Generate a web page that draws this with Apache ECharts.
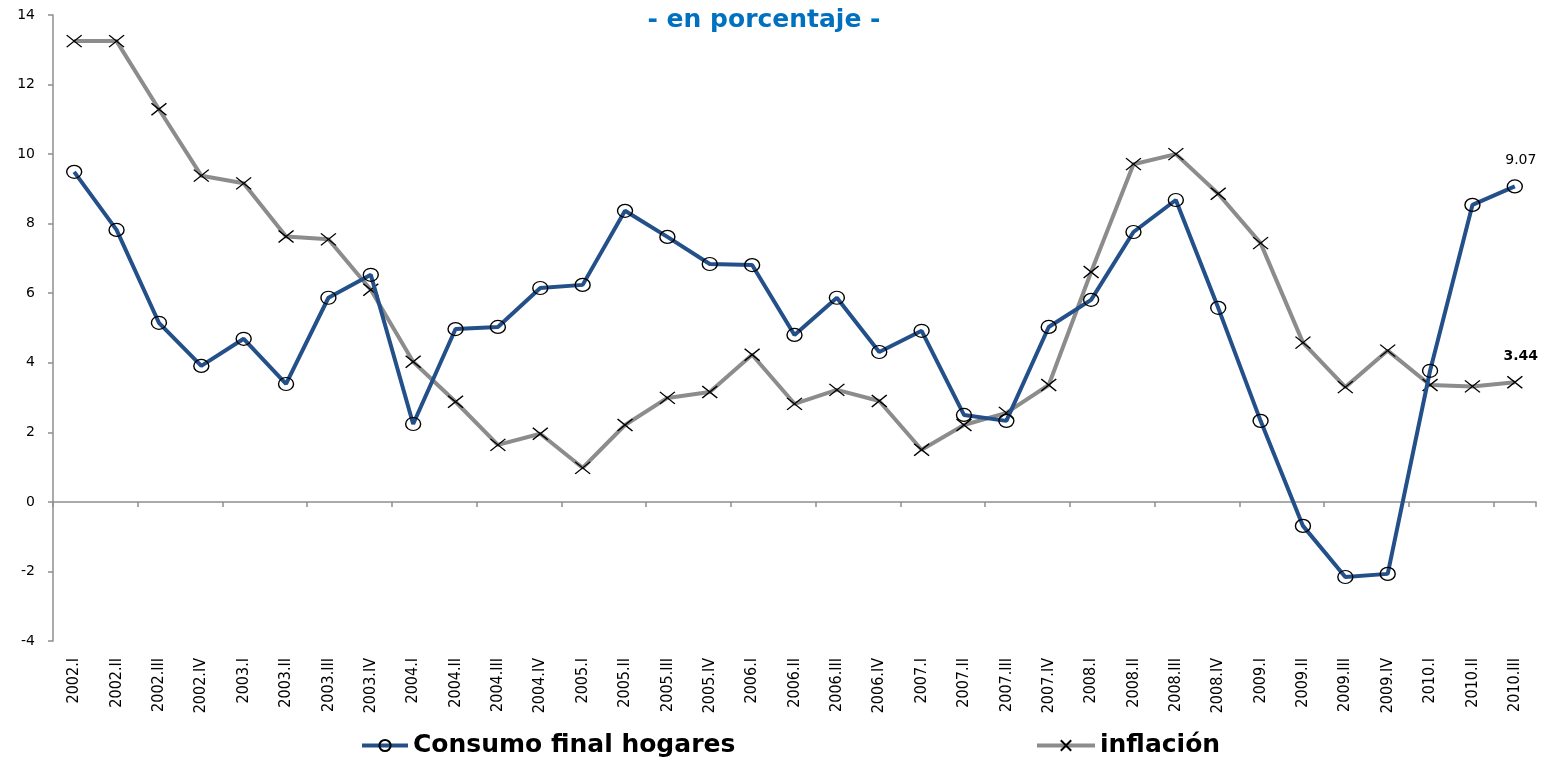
<!DOCTYPE html>
<html>
<head>
<meta charset="utf-8">
<script src="https://cdn.jsdelivr.net/npm/echarts@6/dist/echarts.min.js"></script>
<style>
  html, body { margin: 0; padding: 0; background: #fff; }
  #chart { width: 1549px; height: 760px; }
</style>
</head>
<body>
<div id="chart"></div>
<script>
const categories = [
  '2002.I', '2002.II', '2002.III', '2002.IV',
  '2003.I', '2003.II', '2003.III', '2003.IV',
  '2004.I', '2004.II', '2004.III', '2004.IV',
  '2005.I', '2005.II', '2005.III', '2005.IV',
  '2006.I', '2006.II', '2006.III', '2006.IV',
  '2007.I', '2007.II', '2007.III', '2007.IV',
  '2008.I', '2008.II', '2008.III', '2008.IV',
  '2009.I', '2009.II', '2009.III', '2009.IV',
  '2010.I', '2010.II', '2010.III'
]

const consumo = [
  9.49, 7.82, 5.15, 3.91,
  4.69, 3.39, 5.87, 6.53,
  2.24, 4.97, 5.03, 6.15,
  6.24, 8.37, 7.62, 6.84,
  6.81, 4.80, 5.87, 4.31,
  4.92, 2.50, 2.33, 5.03,
  5.81, 7.76, 8.68, 5.58,
  2.33, -0.69, -2.16, -2.07,
  3.77, 8.54, 9.07
]

const inflacion = [
  13.25, 13.25, 11.29, 9.38,
  9.16, 7.63, 7.55, 6.10,
  4.03, 2.88, 1.64, 1.96,
  0.98, 2.21, 2.99, 3.16,
  4.23, 2.82, 3.22, 2.90,
  1.50, 2.21, 2.56, 3.36,
  6.61, 9.71, 10.0, 8.86,
  7.44, 4.58, 3.30, 4.35,
  3.36, 3.32, 3.44
]

const yMin = -4
const yMax = 14
const yStep = 2

const blue = '#24508A'
const gray = '#8C8C8C'
const axisGray = '#8F8F8F'
const crossPath = 'path://M0,0L10,10M10,0L0,10'

// only the last point of each series carries a value label
function withLastLabel(values, bold) {
  return values.map((v, i) => {
    if (i !== values.length - 1) return v
    return {
      value: v,
      label: {
        show: true,
        position: 'top',
        distance: 12,
        offset: [6, 0],
        color: '#000',
        fontFamily: 'DejaVu Sans',
        fontSize: 14,
        fontWeight: bold ? 'bold' : 'normal',
        formatter: (p) => p.value.toFixed(2)
      }
    }
  })
}

const chart = echarts.init(document.getElementById('chart'), null, { renderer: 'canvas' })

const legendText = {
  color: '#000',
  fontFamily: 'DejaVu Sans',
  fontWeight: 'bold',
  fontSize: 25
}

const option = {
  backgroundColor: '#fff',
  animation: false,
  title: {
    text: '- en porcentaje -',
    left: 759,
    textAlign: 'center',
    top: 3,
    textStyle: {
      color: '#0070C0',
      fontFamily: 'DejaVu Sans',
      fontWeight: 'bold',
      fontSize: 25
    }
  },
  legend: [
    {
      data: ['Consumo final hogares'],
      left: 355,
      top: 728,
      itemWidth: 46,
      itemHeight: 14,
      itemGap: 4,
      lineStyle: { width: 4 },
      textStyle: legendText
    },
    {
      data: ['inflación'],
      left: 1030,
      top: 728,
      itemWidth: 58,
      itemHeight: 13,
      itemGap: 4,
      lineStyle: { width: 4 },
      textStyle: legendText
    }
  ],
  grid: { left: 53, right: 13, top: 15, bottom: 119, containLabel: false },
  xAxis: [
    {
      type: 'category',
      data: categories,
      position: 'bottom',
      axisLine: { show: false, onZero: false },
      axisTick: { show: false },
      axisLabel: {
        rotate: 90,
        margin: 17,
        interval: 0,
        color: '#000',
        fontFamily: 'Liberation Sans Narrow, DejaVu Sans Condensed, sans-serif',
        fontSize: 16
      }
    },
    {
      type: 'category',
      data: categories,
      position: 'bottom',
      axisLine: { show: true, onZero: true, lineStyle: { color: axisGray, width: 1.5 } },
      axisTick: { show: true, length: 5, lineStyle: { color: axisGray, width: 1.5 } },
      axisLabel: { show: false }
    }
  ],
  yAxis: {
    type: 'value',
    min: yMin,
    max: yMax,
    interval: yStep,
    axisLine: { show: true, lineStyle: { color: axisGray, width: 1.5 } },
    axisTick: { show: true, length: 5, lineStyle: { color: axisGray, width: 1.5 } },
    splitLine: { show: false },
    axisLabel: {
      margin: 18,
      color: '#000',
      fontFamily: 'DejaVu Sans',
      fontSize: 14
    }
  },
  series: [
    {
      name: 'inflación',
      type: 'line',
      data: withLastLabel(inflacion, true),
      symbol: crossPath,
      symbolSize: [15, 12],
      showAllSymbol: true,
      lineStyle: { color: gray, width: 4 },
      itemStyle: { color: 'transparent', borderColor: '#000', borderWidth: 1.3 },
      z: 2
    },
    {
      name: 'Consumo final hogares',
      type: 'line',
      data: withLastLabel(consumo, false),
      symbol: 'circle',
      symbolSize: [15, 13],
      showAllSymbol: true,
      lineStyle: { color: blue, width: 4 },
      itemStyle: { color: 'transparent', borderColor: '#000', borderWidth: 1.3 },
      z: 3
    }
  ]
}

chart.setOption(option)
</script>
</body>
</html>
